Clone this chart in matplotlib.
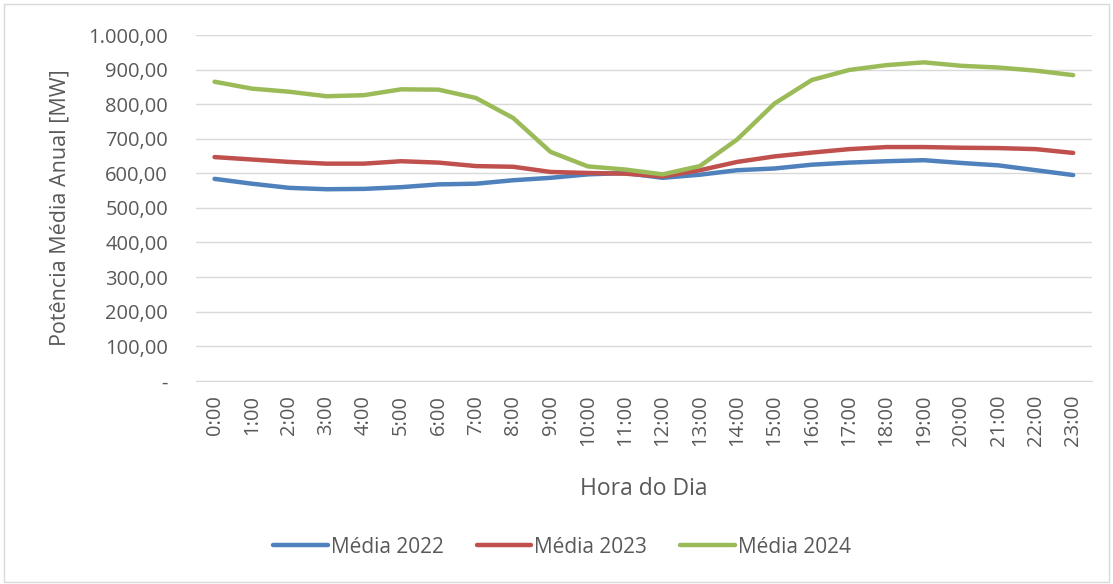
import matplotlib.pyplot as plt
from matplotlib.patches import Rectangle

horas = [f"{h}:00" for h in range(24)]

media_2022 = [584, 570, 558, 554, 555, 560, 568, 570, 580, 587, 597, 601,
              587, 596, 609, 614, 625, 631, 635, 638, 630, 623, 609, 595]
media_2023 = [647, 640, 633, 628, 628, 635, 631, 621, 619, 604, 601, 599,
              591, 609, 633, 649, 660, 670, 676, 676, 674, 673, 670, 659]
media_2024 = [865, 845, 836, 823, 826, 843, 842, 818, 760, 662, 620, 611,
              597, 621, 698, 802, 870, 899, 913, 921, 911, 906, 897, 884]

series = [("Média 2022", media_2022, "#4f81bd"),
          ("Média 2023", media_2023, "#c0504d"),
          ("Média 2024", media_2024, "#9bbb59")]

plt.rcParams['font.family'] = ['Open Sans', 'DejaVu Sans']
txt = "#595959"

fig = plt.figure(figsize=(11.13, 5.84), dpi=100)
ax = fig.add_axes([0.176, 0.348, 0.805, 0.592])

x = list(range(len(horas)))
for nome, vals, cor in series:
    ax.plot(x, vals, color=cor, lw=3.2, label=nome, solid_capstyle='round', solid_joinstyle='round')

def fmt(v):
    if v == 0:
        return "-"
    s = f"{v:,.2f}"
    return s.replace(",", "X").replace(".", ",").replace("X", ".")

yt = list(range(0, 1001, 100))
ax.set_ylim(0, 1000)
ax.set_yticks(yt)
ax.set_yticklabels([fmt(v) for v in yt], color=txt, fontsize=14.5)
ax.set_xlim(-0.5, 23.5)
ax.set_xticks(x)
ax.set_xticklabels(horas, rotation=90, color=txt, fontsize=14.5)
ax.tick_params(axis='y', length=0, pad=20)
ax.tick_params(axis='x', length=0, pad=10)
ax.grid(axis='y', color='#d9d9d9', lw=1)
ax.set_axisbelow(True)
for s in ['top', 'right', 'left']:
    ax.spines[s].set_visible(False)
ax.spines['bottom'].set_color('#d9d9d9')

ax.set_ylabel("Potência Média Anual [MW]", color=txt, fontsize=15.5)
ax.yaxis.set_label_coords(-0.14, 0.5)
ax.set_xlabel("Hora do Dia", color=txt, fontsize=16.5)
ax.xaxis.set_label_coords(0.5, -0.277)

fig.legend(loc='center', bbox_to_anchor=(0.505, 0.063), ncol=3, frameon=False,
           fontsize=15, labelcolor=txt, handlelength=2.6, handletextpad=0.15,
           columnspacing=1.6)

fig.patches.append(Rectangle((0.004, 0.004), 0.992, 0.99, transform=fig.transFigure,
                             fill=False, edgecolor='#d9d9d9', lw=1))

fig.savefig("out.png", dpi=100)
